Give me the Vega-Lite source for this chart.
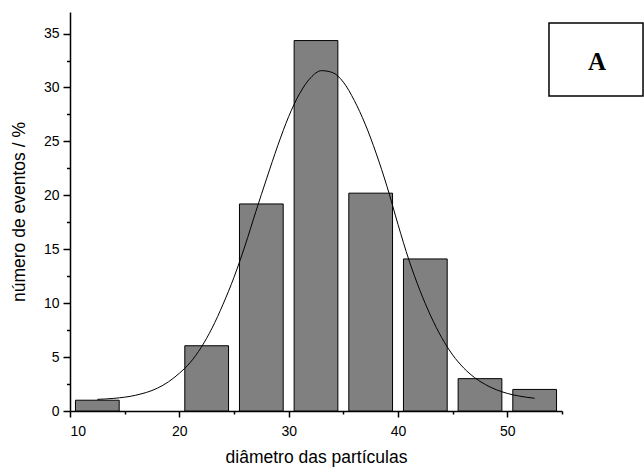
{
  "$schema": "https://vega.github.io/schema/vega-lite/v6.json",
  "width": 492,
  "height": 399,
  "autosize": {"type": "none"},
  "padding": {"left": 70, "top": 12, "right": 82, "bottom": 60},
  "background": "white",
  "config": {
    "view": {"stroke": null},
    "font": "Liberation Sans",
    "scale": {"continuousPadding": 0},
    "axis": {
      "domainColor": "black",
      "domainWidth": 1.5,
      "tickColor": "black",
      "tickWidth": 1.5,
      "labelColor": "black",
      "titleColor": "black",
      "labelFont": "Liberation Sans",
      "titleFont": "Liberation Sans",
      "labelFontSize": 14,
      "titleFontSize": 17.5,
      "titleFontWeight": "normal",
      "grid": false
    }
  },
  "datasets": {
    "bars": [
      {"x0": 10.5, "x1": 14.5, "pct": 1.0},
      {"x0": 20.5, "x1": 24.5, "pct": 6.05},
      {"x0": 25.5, "x1": 29.5, "pct": 19.2},
      {"x0": 30.5, "x1": 34.5, "pct": 34.35},
      {"x0": 35.5, "x1": 39.5, "pct": 20.2},
      {"x0": 40.5, "x1": 44.5, "pct": 14.1},
      {"x0": 45.5, "x1": 49.5, "pct": 3.0},
      {"x0": 50.5, "x1": 54.5, "pct": 2.0}
    ],
    "fit": [
      {"d": 12.5, "f": 1.08}, {"d": 14, "f": 1.17}, {"d": 16, "f": 1.46},
      {"d": 18, "f": 2.12}, {"d": 19, "f": 2.7}, {"d": 20, "f": 3.5},
      {"d": 21, "f": 4.5}, {"d": 22, "f": 5.9}, {"d": 23, "f": 7.7},
      {"d": 24, "f": 9.9}, {"d": 25, "f": 12.4}, {"d": 26, "f": 15.3},
      {"d": 27, "f": 18.5}, {"d": 28, "f": 21.6}, {"d": 29, "f": 24.6},
      {"d": 30, "f": 27.3}, {"d": 31, "f": 29.43}, {"d": 32, "f": 30.89},
      {"d": 33, "f": 31.56}, {"d": 34, "f": 31.39}, {"d": 35, "f": 30.5},
      {"d": 36, "f": 28.8}, {"d": 37, "f": 26.6}, {"d": 38, "f": 23.9},
      {"d": 39, "f": 20.8}, {"d": 40, "f": 17.3}, {"d": 41, "f": 14.0},
      {"d": 42, "f": 11.2}, {"d": 43, "f": 8.8}, {"d": 44, "f": 6.8},
      {"d": 45, "f": 5.2}, {"d": 46, "f": 4.0}, {"d": 47, "f": 3.1},
      {"d": 48, "f": 2.45}, {"d": 49, "f": 1.97}, {"d": 50, "f": 1.63},
      {"d": 51, "f": 1.4}, {"d": 52.5, "f": 1.18}
    ],
    "label": [
      {"bx0": 53.81, "bx1": 62.41, "by0": 29.2, "by1": 35.98, "tx": 58.2, "ty": 32.4, "txt": "A"}
    ]
  },
  "layer": [
    {
      "data": {"name": "bars"},
      "mark": {"type": "bar", "orient": "vertical", "fill": "#808080", "stroke": "black", "strokeWidth": 1},
      "encoding": {
        "x": {
          "field": "x0", "type": "quantitative",
          "scale": {"domain": [10, 55], "nice": false, "zero": false, "padding": 0},
          "axis": {"orient": "bottom", "values": [10, 20, 30, 40, 50], "tickSize": 6, "labelPadding": 7, "title": "diâmetro das partículas", "titlePadding": 10}
        },
        "x2": {"field": "x1"},
        "y": {
          "field": "pct", "type": "quantitative",
          "scale": {"domain": [0, 37], "nice": false, "padding": 0},
          "axis": {"orient": "left", "values": [0, 5, 10, 15, 20, 25, 30, 35], "tickSize": 7, "labelPadding": 4, "title": "número de eventos / %", "titlePadding": 15}
        },
        "y2": {"datum": 0}
      }
    },
    {
      "data": {"name": "fit"},
      "mark": {"type": "line", "color": "black", "strokeWidth": 1, "interpolate": "monotone"},
      "encoding": {
        "x": {
          "field": "d", "type": "quantitative",
          "axis": {"orient": "bottom", "values": [15, 25, 35, 45, 55], "tickSize": 3, "labels": false, "domain": false, "title": null}
        },
        "y": {
          "field": "f", "type": "quantitative",
          "axis": {"orient": "left", "values": [2.5, 7.5, 12.5, 17.5, 22.5, 27.5, 32.5], "tickSize": 3.5, "labels": false, "domain": false, "title": null}
        }
      }
    },
    {
      "data": {"name": "label"},
      "mark": {"type": "rect", "fill": "white", "stroke": "black", "strokeWidth": 1.5, "clip": false},
      "encoding": {
        "x": {"field": "bx0", "type": "quantitative", "axis": null},
        "x2": {"field": "bx1"},
        "y": {"field": "by0", "type": "quantitative", "axis": null},
        "y2": {"field": "by1"}
      }
    },
    {
      "data": {"name": "label"},
      "mark": {"type": "text", "font": "Liberation Serif", "fontWeight": "bold", "fontSize": 25, "color": "black", "align": "center", "baseline": "middle"},
      "encoding": {
        "x": {"field": "tx", "type": "quantitative", "axis": null},
        "y": {"field": "ty", "type": "quantitative", "axis": null},
        "text": {"field": "txt"}
      }
    }
  ],
  "resolve": {"axis": {"x": "independent", "y": "independent"}}
}
